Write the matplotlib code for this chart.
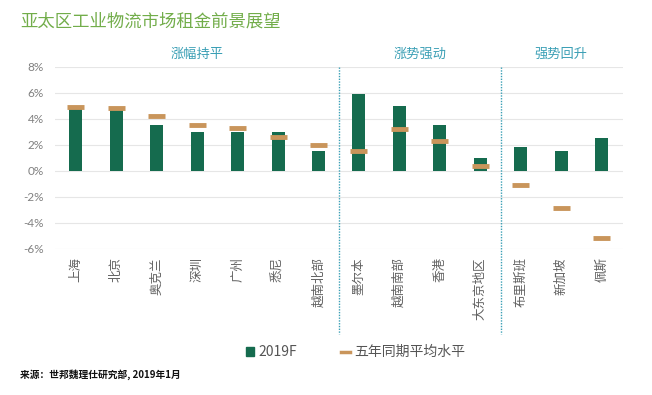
import matplotlib
matplotlib.use("Agg")
import matplotlib.pyplot as plt
import matplotlib.transforms as mtransforms
from matplotlib.lines import Line2D
from matplotlib.patches import Patch
import numpy as np

plt.rcParams['font.family'] = ['Noto Sans CJK SC', 'DejaVu Sans']

# 数据
cities = ['上海', '北京', '奥克兰', '深圳', '广州', '悉尼', '越南北部',
          '墨尔本', '越南南部', '香港', '大东京地区',
          '布里斯班', '新加坡', '佩斯']
forecast_2019 = [4.8, 4.7, 3.5, 3.0, 3.0, 3.0, 1.5,
                 5.9, 5.0, 3.5, 1.0,
                 1.8, 1.5, 2.5]
avg_5yr = [4.9, 4.8, 4.2, 3.5, 3.3, 2.6, 2.0,
           1.5, 3.2, 2.3, 0.4,
           -1.1, -2.85, -5.2]
groups = ['涨幅持平', '涨势强动', '强势回升']
group_sizes = [7, 4, 3]
yticks = [-6, -4, -2, 0, 2, 4, 6, 8]

bar_color = '#156b4e'
avg_color = '#c9955b'
grid_color = '#e6e6e6'
teal = '#3a9fb5'

fig = plt.figure(figsize=(6.52, 3.95), dpi=100)
ax = fig.add_axes([0.084, 0.370, 0.871, 0.461])

x = np.arange(len(cities))
ax.bar(x, forecast_2019, width=0.32, color=bar_color, zorder=2)
for xi, v in zip(x, avg_5yr):
    ax.plot([xi - 0.21, xi + 0.21], [v, v], color=avg_color, lw=3.5,
            solid_capstyle='butt', zorder=3)

ax.set_xlim(-0.52, len(cities) - 0.48)
ax.set_ylim(-6, 8)
ax.set_yticks(yticks)
ax.set_yticklabels([f'{t}%' for t in yticks], color='#808080', fontsize=8.5,
                   family=['Lato', 'DejaVu Sans'])
ax.set_xticks(x)
ax.set_xticklabels(cities, rotation=90, fontsize=9, color='#606060', va='top')
ax.tick_params(axis='both', length=0, pad=6)
ax.tick_params(axis='y', pad=8)
ax.grid(axis='y', color=grid_color, lw=0.8, zorder=0)
for s in ax.spines.values():
    s.set_visible(False)

# 分组虚线与标题
trans = mtransforms.blended_transform_factory(ax.transData, ax.transAxes)
bounds = np.cumsum([0] + group_sizes)
for b in bounds[1:-1]:
    ax.plot([b - 0.5, b - 0.5], [1.0, -0.47], transform=trans, color=teal,
            lw=1.0, ls=(0, (1, 1)), clip_on=False, zorder=4)
for name, lo, hi in zip(groups, bounds[:-1], bounds[1:]):
    cx = (lo + hi - 1) / 2
    ax.text(cx, 1.07, name, transform=trans, ha='center', va='center',
            fontsize=9.5, color=teal)

fig.text(0.031, 0.945, '亚太区工业物流市场租金前景展望', fontsize=12.5,
         color='#72ad4a', ha='left', va='center')

handles = [Patch(color=bar_color, label='2019F'),
           Line2D([0], [0], color=avg_color, lw=2.5, label='五年同期平均水平')]
fig.legend(handles=handles, loc='center', bbox_to_anchor=(0.545, 0.108), ncol=2,
           frameon=False, fontsize=10, handlelength=0.6, handleheight=0.6,
           handletextpad=0.3, columnspacing=3.2, labelcolor='#555555')

fig.text(0.031, 0.052, '来源：世邦魏理仕研究部, 2019年1月', fontsize=7,
         color='#111111', ha='left', va='center', fontweight='bold')

fig.savefig('out.png', dpi=100, facecolor='white')
